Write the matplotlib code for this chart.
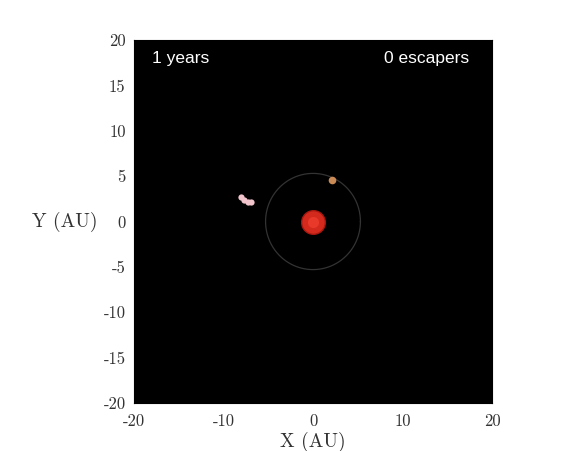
import numpy as np
import matplotlib
matplotlib.use("Agg")
import matplotlib.pyplot as plt

plt.rcParams['font.family'] = 'serif'
plt.rcParams['font.serif'] = ['cmr10']
plt.rcParams['axes.unicode_minus'] = False
plt.rcParams['axes.formatter.use_mathtext'] = False

# snapshot data
years = 1
escapers = 0
sun_xy = (0.0, 0.0)
planet_xy = (2.1, 4.6)
orbit_r = 5.3
particles_x = [-8.1, -7.7, -7.3, -6.9]
particles_y = [2.7, 2.4, 2.2, 2.1]
ticks = [-20, -15, -10, -5, 0, 5, 10, 15, 20]
xticks = [-20, -10, 0, 10, 20]

fig = plt.figure(figsize=(5.86, 4.51), dpi=100)
ax = fig.add_axes([134/586, 1 - 403/451, 358/586, 363/451])
ax.set_facecolor('black')

th = np.linspace(0, 2*np.pi, 400)
ax.plot(orbit_r*np.cos(th), orbit_r*np.sin(th), color='#333333', lw=0.9)
ax.plot(*sun_xy, 'o', ms=17, color='#d42a1e', mec='#a8180f')
ax.plot(*sun_xy, 'o', ms=8, color='#e8392a', mec='none')
ax.plot(*planet_xy, 'o', ms=5.5, color='#c98a55', mec='none')
ax.plot(particles_x, particles_y, 'o', ms=4.5, color='#f2c4cc', mec='none')

ax.set_xlim(-20, 20)
ax.set_ylim(-20, 20)
ax.set_xticks(xticks)
ax.set_yticks(ticks)
ax.tick_params(labelsize=12, direction='in', length=0, colors='#333333')
ax.tick_params(axis='x', pad=8)
ax.tick_params(axis='y', pad=6)
ax.set_xlabel('X (AU)', fontsize=14, labelpad=2, color='#333333')
ax.set_ylabel('Y (AU)', fontsize=14, rotation=0, labelpad=28, va='center',
              color='#333333')

ax.text(0.05, 0.95, f'{years} years', color='white', fontsize=12.5,
        family='Liberation Sans', transform=ax.transAxes, va='center')
ax.text(0.935, 0.95, f'{escapers} escapers', color='white', fontsize=12.5,
        family='Liberation Sans', transform=ax.transAxes, va='center', ha='right')

plt.savefig('out.png', dpi=100)
